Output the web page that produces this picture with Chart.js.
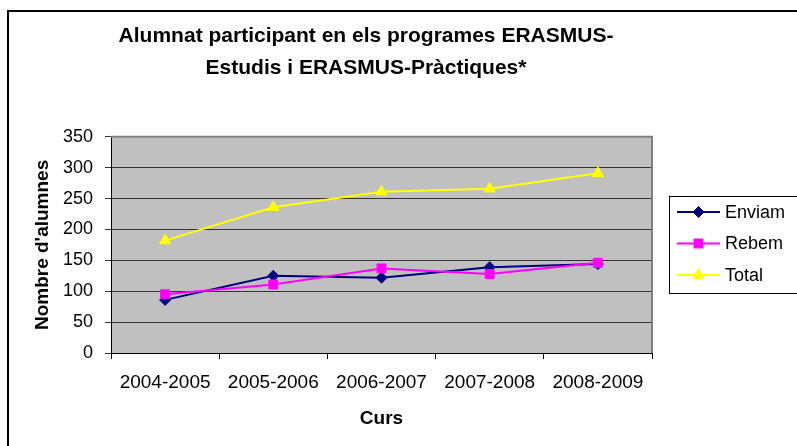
<!DOCTYPE html>
<html>
<head>
<meta charset="utf-8">
<script src="https://cdn.jsdelivr.net/npm/chart.js@4.4.1/dist/chart.umd.min.js"></script>
<style>
html, body { margin: 0; padding: 0; background: #fff; }
#wrap { width: 797px; height: 446px; }
</style>
</head>
<body>
<div id="wrap"><canvas id="grafic" width="797" height="446"></canvas></div>
<script>
// dades del grafic
const cursos = ['2004-2005', '2005-2006', '2006-2007', '2007-2008', '2008-2009'];
const enviam = [86, 125, 122, 139, 144];
const rebem = [95, 111, 137, 128, 146];
const total = [182, 236, 261, 266, 291];
const ticksY = [0, 50, 100, 150, 200, 250, 300, 350];

const lletra = "'Liberation Sans', Arial, sans-serif";

// fons blanc, marc exterior i fons gris de l'area
const fons = {
    id: 'fons',
    beforeDraw(chart) {
        const ctx = chart.ctx;
        const a = chart.chartArea;
        ctx.save();
        ctx.fillStyle = '#fff';
        ctx.fillRect(0, 0, chart.width, chart.height);
        ctx.strokeStyle = '#000';
        ctx.lineWidth = 2;
        ctx.strokeRect(8, 11, chart.width + 20, chart.height + 20);
        ctx.fillStyle = '#c0c0c0';
        ctx.fillRect(a.left, a.top, a.right - a.left, a.bottom - a.top);
        ctx.restore();
    },
    beforeDatasetsDraw(chart) {
        const ctx = chart.ctx;
        const a = chart.chartArea;
        ctx.save();
        ctx.strokeStyle = '#808080';
        ctx.lineWidth = 2;
        ctx.beginPath();
        ctx.moveTo(a.left, a.top);
        ctx.lineTo(a.right, a.top);
        ctx.lineTo(a.right, a.bottom);
        ctx.stroke();
        ctx.restore();
    }
};

// llegenda amb marc, com la d'Excel
const llegenda = {
    id: 'llegenda',
    afterDraw(chart) {
        const ctx = chart.ctx;
        const a = chart.chartArea;
        const h = 97;
        const x0 = a.right + 17;
        const y0 = Math.round((a.top + a.bottom) / 2 - h / 2);
        ctx.save();
        ctx.fillStyle = '#fff';
        ctx.fillRect(x0, y0, 150, h);
        ctx.strokeStyle = '#000';
        ctx.lineWidth = 1;
        ctx.strokeRect(x0 + 0.5, y0 + 0.5, 150, h);
        chart.data.datasets.forEach(function(ds, i) {
            const y = y0 + 16 + i * 31.5;
            ctx.strokeStyle = ds.borderColor;
            ctx.lineWidth = 2;
            ctx.beginPath();
            ctx.moveTo(x0 + 8, y);
            ctx.lineTo(x0 + 51, y);
            ctx.stroke();
            ctx.fillStyle = ds.backgroundColor;
            ctx.lineWidth = 1;
            Chart.helpers.drawPoint(ctx, {
                pointStyle: ds.pointStyle,
                radius: ds.pointRadius,
                borderWidth: 1,
                rotation: 0
            }, x0 + 29.5, y);
            ctx.fillStyle = '#000';
            ctx.font = '18px ' + lletra;
            ctx.textAlign = 'left';
            ctx.textBaseline = 'middle';
            ctx.fillText(ds.label, x0 + 56, y + 1);
        });
        ctx.restore();
    }
};

const ctx = document.getElementById('grafic');
const grafic = new Chart(ctx, {
    type: 'line',
    data: {
        labels: cursos,
        datasets: [{
            label: 'Enviam',
            data: enviam,
            borderColor: '#000080',
            backgroundColor: '#000080',
            borderWidth: 2,
            pointStyle: 'rectRot',
            pointRadius: 5.5,
            pointBorderWidth: 1,
            order: 1
        }, {
            label: 'Rebem',
            data: rebem,
            borderColor: '#ff00ff',
            backgroundColor: '#ff00ff',
            borderWidth: 2,
            pointStyle: 'rect',
            pointRadius: 6.3,
            pointBorderWidth: 1,
            order: 0
        }, {
            label: 'Total',
            data: total,
            borderColor: '#ffff00',
            backgroundColor: '#ffff00',
            borderWidth: 2,
            pointStyle: 'triangle',
            pointRadius: 6.5,
            pointBorderWidth: 1,
            order: 2
        }]
    },
    options: {
        responsive: false,
        devicePixelRatio: 1,
        animation: false,
        layout: {
            padding: { left: 0, right: 65, top: 0, bottom: 0 }
        },
        plugins: {
            legend: { display: false },
            tooltip: { enabled: false },
            title: {
                display: true,
                text: ['Alumnat participant en els programes ERASMUS-', 'Estudis i ERASMUS-Pràctiques*'],
                color: '#000',
                font: { family: lletra, size: 21, weight: 'bold', lineHeight: 1.52 },
                padding: { top: 20, bottom: 53 }
            }
        },
        scales: {
            x: {
                offset: true,
                grid: {
                    offset: true,
                    drawOnChartArea: false,
                    drawTicks: true,
                    tickLength: 6,
                    color: '#000'
                },
                border: { display: true, color: '#000', width: 1 },
                ticks: {
                    color: '#000',
                    font: { family: lletra, size: 19 },
                    padding: 12,
                    maxRotation: 0,
                    autoSkip: false
                },
                title: {
                    display: true,
                    text: 'Curs',
                    color: '#000',
                    font: { family: lletra, size: 19, weight: 'bold' },
                    padding: { top: 16, bottom: 16 }
                },
                afterFit: function(scale) {
                    scale.height = 93;
                }
            },
            y: {
                min: 0,
                max: 350,
                grid: {
                    color: '#333',
                    lineWidth: 1,
                    drawTicks: true,
                    tickLength: 6
                },
                border: { display: true, color: '#000', width: 1 },
                ticks: {
                    color: '#000',
                    font: { family: lletra, size: 18 },
                    padding: 12
                },
                afterBuildTicks: function(scale) {
                    scale.ticks = ticksY.map(function(v) { return { value: v }; });
                },
                title: {
                    display: true,
                    text: "Nombre d'alumnes",
                    color: '#000',
                    font: { family: lletra, size: 19, weight: 'bold' },
                    padding: { top: 31, bottom: 31 }
                },
                afterFit: function(scale) {
                    scale.width = 111;
                }
            },
            // eix buit a la dreta per deixar lloc a la llegenda
            y2: {
                position: 'right',
                display: true,
                grid: { display: false },
                border: { display: false },
                ticks: { display: false },
                afterFit: function(scale) {
                    scale.width = 80;
                }
            }
        }
    },
    plugins: [fons, llegenda]
});
</script>
</body>
</html>
